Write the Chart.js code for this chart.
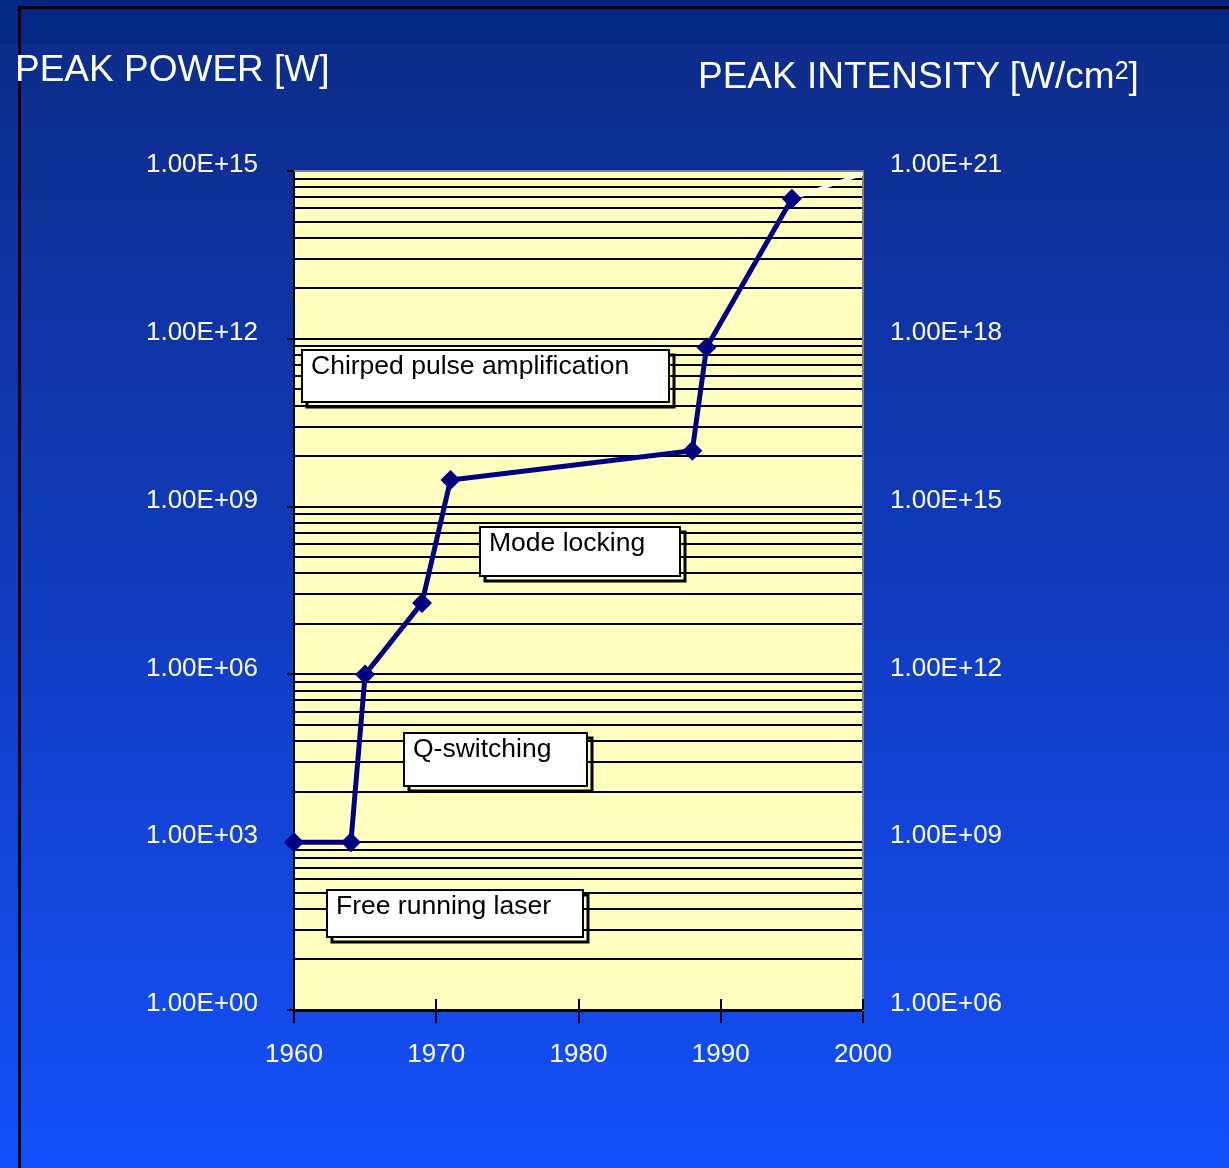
<!DOCTYPE html>
<html>
<head>
<meta charset="utf-8">
<script src="https://cdn.jsdelivr.net/npm/chart.js@4.4.1/dist/chart.umd.min.js"></script>
<style>
html, body { margin: 0; padding: 0; width: 1229px; height: 1168px; overflow: hidden; background: #1040d0; }
#wrap { position: absolute; left: 0; top: 0; width: 1229px; height: 1168px; }
.title { position: absolute; color: #fff; font-family: "Liberation Sans", Arial, sans-serif;
         font-size: 37px; line-height: 37px; white-space: nowrap; }
.title .sup { font-size: 25px; position: relative; top: -9px; }
</style>
</head>
<body>
<div id="wrap">
  <canvas id="myChart" width="1229" height="1168"></canvas>
  <div class="title" style="left:15px; top:50px;">PEAK POWER [W]</div>
  <div class="title" style="left:698px; top:57px;">PEAK INTENSITY [W/cm<span class="sup">2</span>]</div>
</div>
<script>
// data
var years = [1960, 1964, 1965, 1969, 1971, 1988, 1989, 1995];
var peakPower = [1e3, 1e3, 1e6, 1.9e7, 3e9, 1e10, 7e11, 3.2e14];
var trendYears = [1995, 2000];
var trendPower = [3.2e14, 9e14];

var yearTicks = [1960, 1970, 1980, 1990, 2000];
var powerExponents = [0, 3, 6, 9, 12, 15];
var intensityExponents = [6, 9, 12, 15, 18, 21];
var gridSteps = [1, 8, 27, 64, 125, 216, 343, 512, 729];

var boxTexts = ["Chirped pulse amplification", "Mode locking", "Q-switching", "Free running laser"];

// annotation anchors (data units) and box sizes
var boxOpts = {
	years : [1960.55, 1973.1, 1967.7, 1962.3],
	power : [6.3e11, 4.3e8, 9e4, 140],
	widths : [367, 200, 183, 256],
	heights : [52, 49, 53, 47]
};

var FONT = '"Liberation Sans", Arial, sans-serif';
Chart.defaults.font.family = FONT;

function sci(e) {
	return "1.00E+" + (e < 10 ? "0" : "") + e;
}

function isMajor(v) {
	var l = Math.log10(v);
	return Math.abs(l - Math.round(l)) < 1e-9;
}

var powerGrid = [];
for (let i = 0; i < powerExponents.length - 1; i++) {
	for (let j = 0; j < gridSteps.length; j++) {
		powerGrid.push(gridSteps[j] * Math.pow(10, powerExponents[i]));
	}
}
powerGrid.push(Math.pow(10, powerExponents[powerExponents.length - 1]));

var bgPlugin = {
	id : "bg",
	beforeDraw : function(chart) {
		var ctx = chart.ctx, a = chart.chartArea;
		ctx.save();
		ctx.fillStyle = "#042782";
		ctx.fillRect(0, 0, chart.width, 44);
		var g = ctx.createLinearGradient(0, 44, 0, chart.height);
		g.addColorStop(0, "#0d2c8a");
		g.addColorStop(0.5, "#113cc0");
		g.addColorStop(1, "#1450fa");
		ctx.fillStyle = g;
		ctx.fillRect(0, 44, chart.width, chart.height - 44);
		// slide frame
		ctx.fillStyle = "#000";
		ctx.fillRect(19, 6, chart.width - 19, 3);
		ctx.fillRect(18, 6, 3, chart.height - 6);
		// plot area
		ctx.fillStyle = "#ffffc0";
		ctx.fillRect(a.left, a.top, a.right - a.left, a.bottom - a.top);
		ctx.restore();
	}
};

var boxPlugin = {
	id : "boxes",
	afterDatasetsDraw : function(chart) {
		var ctx = chart.ctx, x = chart.scales.x, y = chart.scales.y, a = chart.chartArea;
		ctx.save();
		// top border of plot area
		ctx.strokeStyle = "#808080";
		ctx.lineWidth = 2;
		ctx.beginPath();
		ctx.moveTo(a.left, a.top);
		ctx.lineTo(a.right + 1, a.top);
		ctx.stroke();
		// upper half of x tick marks
		ctx.strokeStyle = "#000";
		ctx.lineWidth = 2;
		yearTicks.forEach(function(t) {
			var px = Math.round(x.getPixelForValue(t));
			ctx.beginPath();
			ctx.moveTo(px, a.bottom - 11);
			ctx.lineTo(px, a.bottom);
			ctx.stroke();
		});
		// label boxes
		boxTexts.forEach(function(t, i) {
			var left = Math.round(x.getPixelForValue(boxOpts.years[i]));
			var top = Math.round(y.getPixelForValue(boxOpts.power[i]));
			var w = boxOpts.widths[i], h = boxOpts.heights[i];
			ctx.strokeStyle = "#000";
			ctx.lineWidth = 3;
			ctx.strokeRect(left + 5, top + 5, w, h);
			ctx.fillStyle = "#fff";
			ctx.fillRect(left, top, w, h);
			ctx.lineWidth = 2;
			ctx.strokeRect(left, top, w, h);
			ctx.fillStyle = "#000";
			ctx.font = "26.5px " + FONT;
			ctx.textBaseline = "alphabetic";
			ctx.fillText(t, left + 9, top + 24);
		});
		ctx.restore();
	}
};

var chart = new Chart(document.getElementById("myChart").getContext("2d"), {
	type : "line",
	data : {
		datasets : [ {
			data : years.map(function(yr, i) { return {x : yr, y : peakPower[i]}; }),
			borderColor : "#000080",
			backgroundColor : "#000080",
			borderWidth : 5,
			tension : 0,
			pointStyle : "rectRot",
			pointRadius : 10,
			pointBorderWidth : 0,
			clip : false,
			order : 1
		}, {
			data : trendYears.map(function(yr, i) { return {x : yr, y : trendPower[i]}; }),
			borderColor : "#fffff0",
			borderWidth : 3.5,
			tension : 0,
			pointRadius : 0,
			order : 2
		} ]
	},
	options : {
		responsive : false,
		devicePixelRatio : 1,
		animation : false,
		events : [],
		layout : { padding : { top : 171, left : 0, right : 0, bottom : 0 } },
		plugins : { legend : { display : false }, tooltip : { enabled : false } },
		scales : {
			x : {
				type : "linear",
				position : "bottom",
				min : 1960,
				max : 2000,
				afterBuildTicks : function(scale) {
					scale.ticks = yearTicks.map(function(v) { return {value : v}; });
				},
				afterFit : function(scale) { scale.height = 158; },
				ticks : {
					color : "#fff",
					font : { size : 26 },
					padding : 16,
					autoSkip : false,
					maxRotation : 0,
					callback : function(v) { return String(v); }
				},
				grid : { drawOnChartArea : false, color : "#000", lineWidth : 2, tickLength : 13 },
				border : { color : "#000", width : 3 }
			},
			y : {
				type : "logarithmic",
				position : "left",
				min : 1,
				max : 1e15,
				afterBuildTicks : function(scale) {
					scale.ticks = powerGrid.map(function(v) { return {value : v}; });
				},
				afterFit : function(scale) { scale.width = 294; },
				ticks : {
					color : "#fff",
					font : { size : 26 },
					padding : 29,
					labelOffset : -6,
					autoSkip : false,
					callback : function(v) {
						return isMajor(v) ? sci(Math.round(Math.log10(v))) : "";
					}
				},
				grid : {
					color : "#000",
					lineWidth : 2,
					tickLength : 7,
					tickColor : function(c) {
						return c.tick && isMajor(c.tick.value) ? "#000" : "rgba(0,0,0,0)";
					}
				},
				border : { color : "#000", width : 2 }
			},
			y2 : {
				type : "logarithmic",
				position : "right",
				min : 1e6,
				max : 1e21,
				afterBuildTicks : function(scale) {
					scale.ticks = intensityExponents.map(function(e) { return {value : Math.pow(10, e)}; });
				},
				afterFit : function(scale) { scale.width = 366; },
				ticks : {
					color : "#fff",
					font : { size : 26 },
					padding : 27,
					labelOffset : -6,
					autoSkip : false,
					callback : function(v) { return sci(Math.round(Math.log10(v))); }
				},
				grid : { display : false, drawTicks : false },
				border : { display : true, color : "#808080", width : 2 }
			}
		}
	},
	plugins : [ bgPlugin, boxPlugin ]
});
</script>
</body>
</html>
